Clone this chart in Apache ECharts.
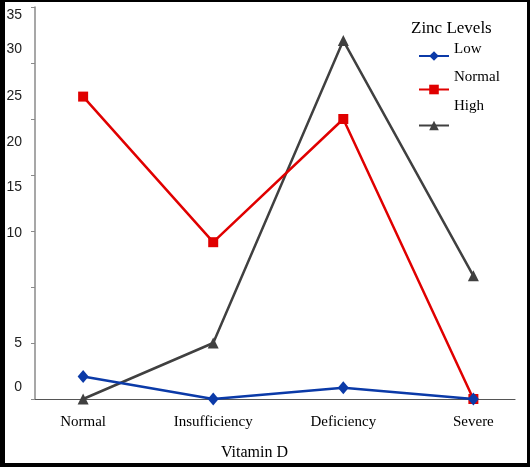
<!DOCTYPE html>
<html>
<head>
<meta charset="utf-8">
<script src="https://cdn.jsdelivr.net/npm/echarts@6/dist/echarts.min.js"></script>
<style>
html,body{margin:0;padding:0;background:#fff;}
#wrap{position:relative;width:530px;height:467px;}
#chart{position:absolute;left:0;top:0;width:530px;height:467px;}
#frame{position:absolute;left:0;top:0;width:530px;height:467px;box-sizing:border-box;
  border-left:5px solid #000;border-top:2px solid #000;border-right:3px solid #000;border-bottom:4px solid #000;pointer-events:none;}
</style>
</head>
<body>
<div id="wrap"><div id="chart"></div><div id="frame"></div></div>
<script>
// ---- data ----
const categories = ['Normal', 'Insufficiency', 'Deficiency', 'Severe'];
const seriesNames = ['Low', 'Normal', 'High'];
const lowValues = [2, 0, 1, 0];
const normalValues = [27, 14, 25, 0];
const highValues = [0, 5, 32, 11];
const yTickLabels = ['0', '5', '10', '15', '20', '25', '30', '35'];
const yTicks = [0, 5, 10, 15, 20, 25, 30, 35];
const legendTitle = 'Zinc Levels';
const xTitle = 'Vitamin D';

// ---- layout (where the reference printed its y labels, in axis units) ----
const yLabelPlaces = [1.07, 5, 14.8, 18.9, 22.9, 27.0, 31.2, 34.3];

const serif = "'Liberation Serif', 'DejaVu Serif', serif";
const sans = "'Liberation Sans', Arial, sans-serif";

function pairs(vals) { return vals.map((v, i) => [i, v]); }

const colors = ['#0b3aa8', '#e00000', '#404040'];
const symbols = ['diamond', 'rect', 'triangle'];
const symbolSizes = [[11, 13], 10, [11, 11]];
const valueSets = [lowValues, normalValues, highValues];

const chart = echarts.init(document.getElementById('chart'), null, {renderer: 'canvas'});
const legendTops = [41.5, 70, 99];
const legendPads = [14, 24, 38];

chart.setOption({
  animation: false,
  backgroundColor: '#fff',
  title: [
    {text: legendTitle, left: 411, top: 20, padding: 0,
     textStyle: {fontFamily: serif, fontSize: 17, fontWeight: 'normal', color: '#000'}},
    {text: xTitle, left: 221, top: 445, padding: 0,
     textStyle: {fontFamily: serif, fontSize: 16, fontWeight: 'normal', color: '#000'}}
  ],
  legend: seriesNames.map((n, i) => ({
    data: [n], orient: 'vertical', left: 418, top: legendTops[i], padding: 0,
    itemWidth: 30, itemHeight: 12,
    formatter: name => '{t|' + name + '}',
    textStyle: {fontFamily: serif, fontSize: 15, color: '#000',
      rich: {t: {fontFamily: serif, fontSize: 15, color: '#000', padding: [0, 0, legendPads[i], 0]}}}
  })),
  grid: {left: 35, right: 15, top: 7, bottom: 68, containLabel: false},
  xAxis: {
    type: 'value', min: -0.37, max: 3.32,
    splitLine: {show: false},
    axisTick: {show: false},
    axisLine: {show: true, onZero: false, lineStyle: {color: '#555', width: 1.2}},
    axisLabel: {
      customValues: [0, 1, 2, 3],
      formatter: v => categories[Math.round(v)] || '',
      fontFamily: serif, fontSize: 15, color: '#000', margin: 16
    }
  },
  yAxis: {
    type: 'value', min: 0, max: 35,
    splitLine: {show: false},
    axisLine: {show: true, onZero: false, lineStyle: {color: '#8a8a8a', width: 1.5}},
    axisTick: {show: true, inside: false, length: 4, customValues: yTicks, lineStyle: {color: '#8a8a8a'}},
    axisLabel: {
      customValues: yLabelPlaces,
      formatter: v => {
        let best = 0;
        yLabelPlaces.forEach((p, i) => { if (Math.abs(p - v) < Math.abs(yLabelPlaces[best] - v)) best = i; });
        return yTickLabels[best];
      },
      fontFamily: sans, fontSize: 14, color: '#222', margin: 13
    }
  },
  series: seriesNames.map((n, i) => ({
    name: n, type: 'line', data: pairs(valueSets[i]),
    symbol: symbols[i], symbolSize: symbolSizes[i],
    lineStyle: {color: colors[i], width: 2.5},
    itemStyle: {color: colors[i]},
    z: 2 + (i === 0 ? 2 : i === 1 ? 1 : 0)
  }))
});
</script>
</body>
</html>
